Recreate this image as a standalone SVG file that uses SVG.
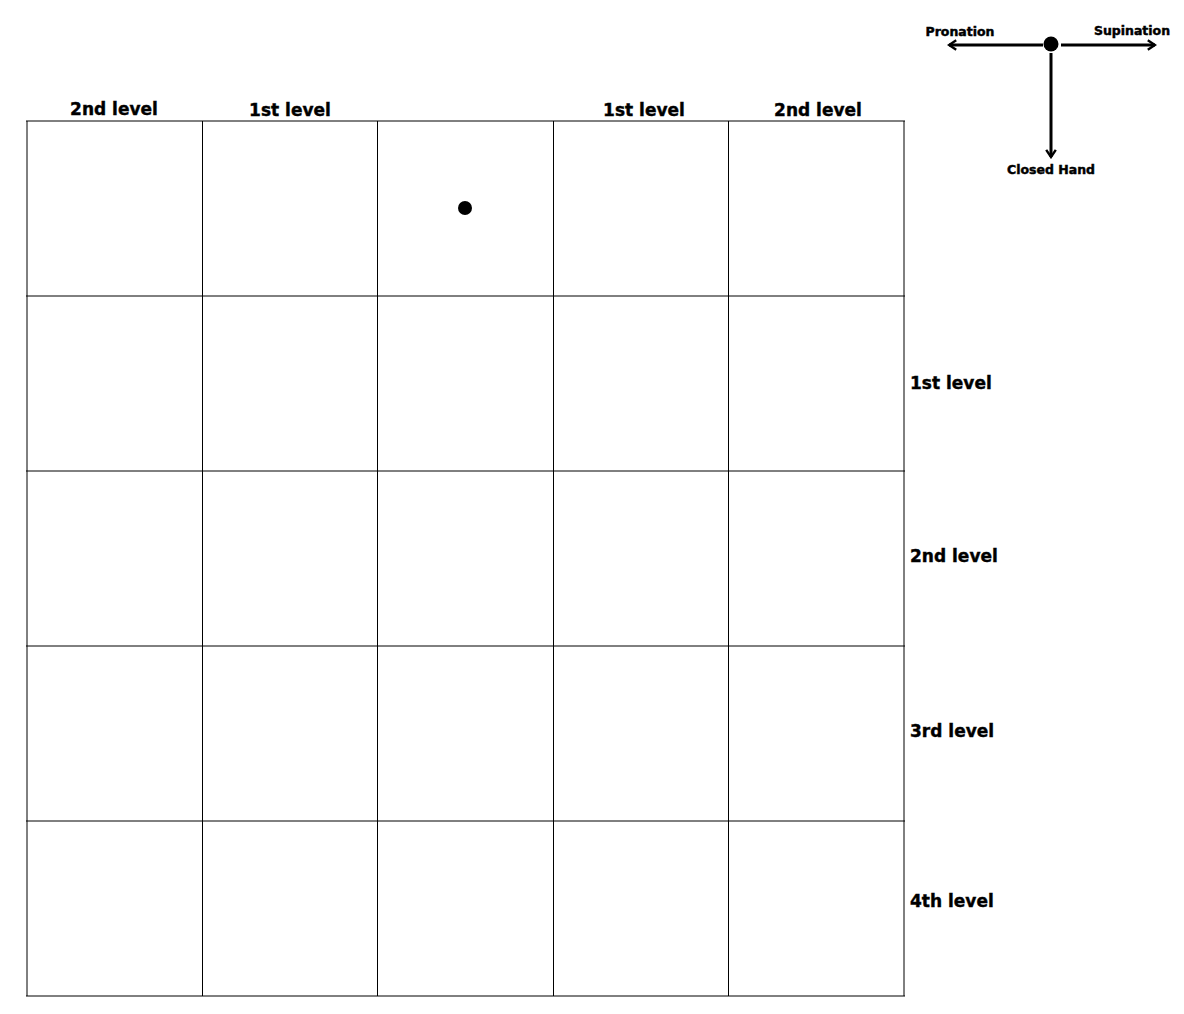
<svg xmlns="http://www.w3.org/2000/svg" width="1184" height="1014" viewBox="0 0 1184 1014">
<style>
.lbl{font-family:"DejaVu Sans",Verdana,sans-serif;font-weight:bold;font-size:17px;fill:#000;stroke:#000;stroke-width:0.4}
.leg{font-family:"DejaVu Sans",Verdana,sans-serif;font-weight:bold;font-size:12.5px;fill:#000;stroke:#000;stroke-width:0.45}
.h{stroke:#000;stroke-width:1}
.v{stroke:#000;stroke-width:1}
.arr{stroke:#000;stroke-width:3;fill:none}
</style>
<defs>
<marker id="chev" viewBox="0 0 10 10" refX="8" refY="5" markerWidth="4" markerHeight="4" orient="auto" markerUnits="strokeWidth">
<path d="M2,1 L8,5 L2,9" fill="none" stroke="#000" stroke-width="2"/>
</marker>
</defs>
<rect width="1184" height="1014" fill="#fff"/>
<g id="grid">
<line class="h" x1="26" y1="121" x2="905" y2="121"/>
<line class="h" x1="26" y1="296" x2="905" y2="296"/>
<line class="h" x1="26" y1="471" x2="905" y2="471"/>
<line class="h" x1="26" y1="646" x2="905" y2="646"/>
<line class="h" x1="26" y1="821" x2="905" y2="821"/>
<line class="h" x1="26" y1="996" x2="905" y2="996"/>
<line class="h" x1="27" y1="121" x2="27" y2="996"/>
<line class="v" x1="202.5" y1="121" x2="202.5" y2="996"/>
<line class="v" x1="377.5" y1="121" x2="377.5" y2="996"/>
<line class="v" x1="553.5" y1="121" x2="553.5" y2="996"/>
<line class="v" x1="728.5" y1="121" x2="728.5" y2="996"/>
<line class="h" x1="904" y1="121" x2="904" y2="996"/>
</g>
<g id="marker-dot"><circle cx="465" cy="208" r="7" fill="#000"/></g>
<g id="col-labels">
<text class="lbl" x="114" y="115" text-anchor="middle">2nd level</text>
<text class="lbl" x="290" y="116" text-anchor="middle">1st level</text>
<text class="lbl" x="644" y="116" text-anchor="middle">1st level</text>
<text class="lbl" x="818" y="116" text-anchor="middle">2nd level</text>
</g>
<g id="row-labels">
<text class="lbl" x="910" y="389">1st level</text>
<text class="lbl" x="910" y="562">2nd level</text>
<text class="lbl" x="910" y="737">3rd level</text>
<text class="lbl" x="910" y="907">4th level</text>
</g>
<g id="legend">
<circle cx="1051" cy="44" r="7.5" fill="#000"/>
<text class="leg" x="960" y="36" text-anchor="middle">Pronation</text>
<text class="leg" x="1132" y="35" text-anchor="middle">Supination</text>
<text class="leg" x="1051" y="174" text-anchor="middle">Closed Hand</text>
</g>
<g id="connectors">
<line class="arr" x1="1043" y1="45" x2="949" y2="45" marker-end="url(#chev)"/>
<line class="arr" x1="1061" y1="45" x2="1155" y2="45" marker-end="url(#chev)"/>
<line class="arr" x1="1051" y1="53" x2="1051" y2="157" marker-end="url(#chev)"/>
</g>
</svg>
